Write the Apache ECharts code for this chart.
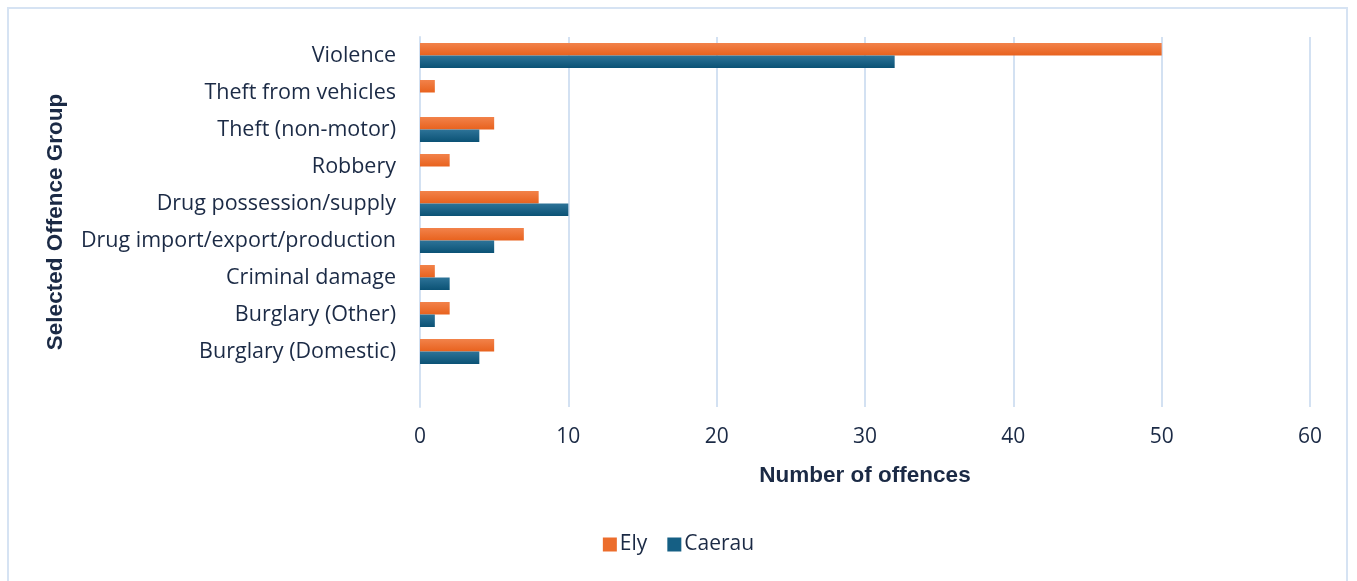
<!DOCTYPE html>
<html>
<head>
<meta charset="utf-8">
<script src="https://cdn.jsdelivr.net/npm/echarts@6/dist/echarts.min.js"></script>
<style>
    html, body { margin: 0; padding: 0; background: #fff; }
    #frame { position: absolute; left: 7px; top: 7px; width: 1341px; height: 590px; border: 2px solid #D6E3F3; box-sizing: border-box; }
    #chart { position: absolute; left: 0; top: 0; width: 1357px; height: 581px; }
</style>
</head>
<body>
<div id="frame"></div>
<div id="chart"></div>
<script>
// bottom slot is blank in the original
var categories = ['Violence', 'Theft from vehicles', 'Theft (non-motor)', 'Robbery',
    'Drug possession/supply', 'Drug import/export/production', 'Criminal damage',
    'Burglary (Other)', 'Burglary (Domestic)', '']
var ely_data = [50, 1, 5, 2, 8, 7, 1, 2, 5, null]
var caerau_data = [32, 0, 4, 0, 10, 5, 2, 1, 4, null]
var x_ticks = [0, 10, 20, 30, 40, 50, 60]

var text_color = '#1B2A45'
var grid_color = '#D3E1F2'

function grad(top, bottom)
{
    return new echarts.graphic.LinearGradient(0, 0, 0, 1, [
        { offset: 0, color: top },
        { offset: 1, color: bottom }
    ])
}

var chart = echarts.init(document.getElementById('chart'))

var option = {
    animation: false,
    textStyle: { fontFamily: 'Open Sans' },
    legend: {
        bottom: 21,
        left: 'center',
        itemWidth: 14,
        itemHeight: 14,
        itemGap: 20,
        icon: 'rect',
        textStyle: { fontSize: 21, color: text_color, fontFamily: 'Open Sans', padding: [0, 0, 0, -2] },
        data: [
            { name: 'Ely', itemStyle: { color: '#EC6D2C' } },
            { name: 'Caerau', itemStyle: { color: '#155F84' } }
        ]
    },
    grid: {
        left: 420,
        right: 47,
        top: 37,
        bottom: 174,
        containLabel: false
    },
    xAxis: {
        type: 'value',
        min: x_ticks[0],
        max: x_ticks[x_ticks.length - 1],
        interval: 10,
        name: 'Number of offences',
        nameLocation: 'middle',
        nameGap: 57,
        nameTextStyle: { fontSize: 22.5, fontWeight: 'bold', color: text_color, fontFamily: 'Liberation Sans' },
        axisLine: { show: false },
        axisTick: { show: false },
        axisLabel: { fontSize: 21, color: text_color, margin: 20, fontFamily: 'Open Sans' },
        splitLine: { lineStyle: { color: grid_color, width: 2 } }
    },
    yAxis: {
        type: 'category',
        inverse: true,
        data: categories,
        name: 'Selected Offence Group',
        nameLocation: 'middle',
        nameGap: 353,
        nameRotate: 90,
        nameTextStyle: { fontSize: 22.5, fontWeight: 'bold', color: text_color, fontFamily: 'Liberation Sans' },
        axisLine: { show: true, lineStyle: { color: grid_color, width: 2 } },
        axisTick: { show: false },
        axisLabel: { fontSize: 21.5, color: text_color, margin: 24, fontFamily: 'Open Sans' }
    },
    series: [
        {
            name: 'Ely',
            type: 'bar',
            barWidth: 12.5,
            barGap: '0%',
            itemStyle: { color: grad('#F2824A', '#E8621E') },
            data: ely_data
        },
        {
            name: 'Caerau',
            type: 'bar',
            barWidth: 12.5,
            barGap: '0%',
            itemStyle: { color: grad('#2D7398', '#0B5275') },
            data: caerau_data
        }
    ]
}
chart.setOption(option)
</script>
</body>
</html>
